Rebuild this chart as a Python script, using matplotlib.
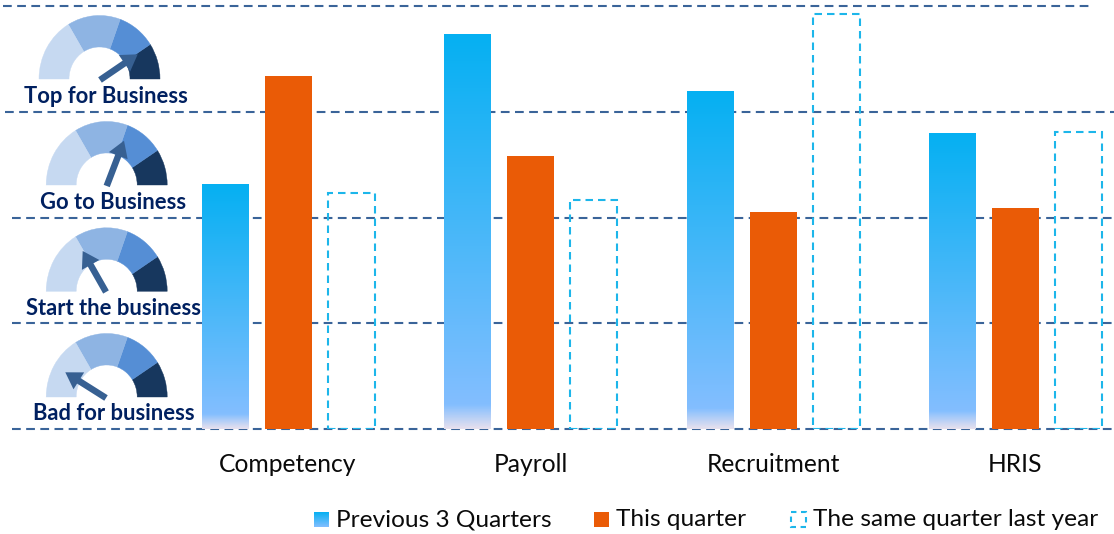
import numpy as np
import matplotlib
matplotlib.use("Agg")
import matplotlib.pyplot as plt
from matplotlib.colors import LinearSegmentedColormap
from matplotlib.patches import Wedge, FancyArrow, Rectangle
from matplotlib.transforms import Affine2D

plt.rcParams['font.family'] = ['Lato', 'DejaVu Sans']

# ----- data -----
categories = ["Competency", "Payroll", "Recruitment", "HRIS"]
previous_quarters = [2.31, 3.73, 3.19, 2.79]
this_quarter = [3.34, 2.58, 2.05, 2.09]
last_year = [2.23, 2.17, 3.92, 2.81]
levels = [0, 1, 2, 3, 4]
gauge_labels = ["Bad for business", "Start the business", "Go to Business", "Top for Business"]

# ----- style -----
W, H = 1114, 534
BASE_Y = 429
UNIT_PX = 105.75
BAR_W = 47
BLUE_TOP = "#05B0F2"
BLUE_LOW = "#83BEFF"
BLUE_END = "#E6E0EE"
ORANGE = "#EA5B06"
DASH_BLUE = "#1DB6EA"
GRID = "#3A6499"
NAVY = "#002060"
ARROW = "#376092"
GAUGE_COLORS = ["#17375E", "#558ED5", "#8EB4E3", "#C6D9F1"]
GAUGE_ANGLES = [0, 33, 70, 121, 180]

grad = LinearSegmentedColormap.from_list(
    "bar_grad", [(0, BLUE_END), (0.06, BLUE_LOW), (1, BLUE_TOP)])

fig = plt.figure(figsize=(W / 100, H / 100), dpi=100)

# main axes: baseline sits at the bottom edge, x is in pixels
ax = fig.add_axes([0, (H - BASE_Y) / H, 1, BASE_Y / H])
ax.patch.set_alpha(0)
for s in ax.spines.values():
    s.set_visible(False)

x = np.arange(len(categories)) * 242.5 + 225

grid_starts = [12, 12, 12, 5, 3]
grid_ends = [1114, 1114, 1114, 1114, 1090]
for lev, x0, x1 in zip(levels, grid_starts, grid_ends):
    ax.plot([x0, x1], [lev, lev], color=GRID, lw=1.5, ls=(0, (4.2, 2.6)),
            zorder=1, clip_on=False)

gradient = np.linspace(1, 0, 256).reshape(-1, 1)
for xi, v in zip(x, previous_quarters):
    ax.imshow(gradient, cmap=grad, vmin=0, vmax=1, aspect="auto", zorder=2,
              extent=(xi - BAR_W / 2, xi + BAR_W / 2, 0, v))

ax.bar(x + 63, this_quarter, BAR_W, color=ORANGE, zorder=3)
ax.bar(x + 126, last_year, BAR_W, facecolor="none", edgecolor=DASH_BLUE,
       lw=1.5, ls=(0, (3.6, 2.4)), zorder=3)

ax.set_xlim(0, W)
ax.set_ylim(0, BASE_Y / UNIT_PX)
ax.set_yticks([])
ax.set_xticks(x + 63)
ax.set_xticklabels(categories, fontsize=17.7, color="#0A0A0A")
ax.tick_params(axis="x", length=0, pad=17)

# overlay in pixel coordinates for gauges and legend
ov = fig.add_axes([0, 0, 1, 1])
ov.set_xlim(0, W)
ov.set_ylim(H, 0)
ov.axis("off")
ov.patch.set_alpha(0)


def draw_gauge(cx, cy, tip, tail, label, lx, ly):
    # y axis is flipped here, so wedge angles run clockwise on screen
    # the gauges are a bit taller than wide, hence the y scale
    tr = Affine2D().scale(1, 1.05).translate(cx, cy) + ov.transData
    for c, a0, a1 in zip(GAUGE_COLORS, GAUGE_ANGLES[:-1], GAUGE_ANGLES[1:]):
        ov.add_patch(Wedge((0, 0), 60.5, -a1, -a0, width=30, facecolor=c,
                           edgecolor=c, lw=0.3, zorder=4, transform=tr))
    ov.add_patch(FancyArrow(tail[0], tail[1], tip[0] - tail[0], tip[1] - tail[1],
                            width=6.5, head_width=20, head_length=16,
                            length_includes_head=True, color=ARROW, lw=0, zorder=5))
    ov.text(lx, ly, label, fontsize=15.8, fontweight="bold", color=NAVY,
            ha="center", va="center", zorder=6)


draw_gauge(106.7, 397, (65.3, 372.3), (106, 398), gauge_labels[0], 114, 413.5)
draw_gauge(106.7, 291.3, (82.7, 251), (106, 292), gauge_labels[1], 113.5, 308.5)
draw_gauge(106.7, 185, (124, 140.7), (106.7, 186), gauge_labels[2], 113.5, 202.5)
draw_gauge(99.5, 79, (137.7, 54.3), (100, 80), gauge_labels[3], 106, 96.5)

# legend
leg_grad = ov.imshow(gradient, cmap=LinearSegmentedColormap.from_list(
    "leg", [BLUE_LOW, BLUE_TOP]), aspect="auto", extent=(314, 329, 527, 512), zorder=4)
ov.set_xlim(0, W)
ov.set_ylim(H, 0)
ov.add_patch(Rectangle((594, 512), 15, 15, facecolor=ORANGE, edgecolor="none"))
ov.add_patch(Rectangle((791, 512), 14.5, 15, facecolor="none", edgecolor=DASH_BLUE,
                       lw=1.5, ls=(0, (2.6, 2.2))))
for tx, t in zip([336, 616, 813],
                 ["Previous 3 Quarters", "This quarter", "The same quarter last year"]):
    ov.text(tx, 519.5, t, fontsize=17.6, color="#0A0A0A", ha="left", va="center")

fig.savefig("out.png", dpi=100)
